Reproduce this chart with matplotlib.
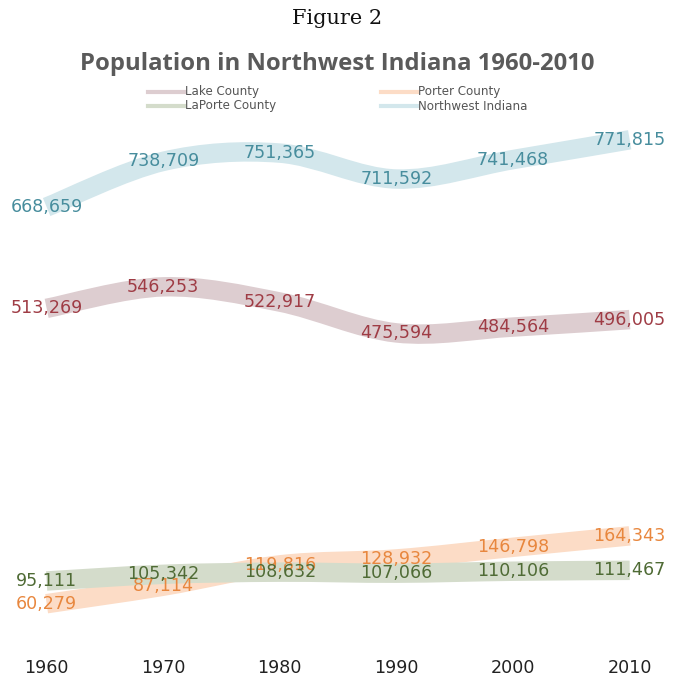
import matplotlib
matplotlib.use("Agg")
import matplotlib.pyplot as plt
from matplotlib.path import Path
from matplotlib.patches import PathPatch
from matplotlib.lines import Line2D

years = ["1960", "1970", "1980", "1990", "2000", "2010"]
lake = [513269, 546253, 522917, 475594, 484564, 496005]
porter = [60279, 87114, 119816, 128932, 146798, 164343]
laporte = [95111, 105342, 108632, 107066, 110106, 111467]
northwest = [668659, 738709, 751365, 711592, 741468, 771815]

series = [
    ("Lake County", lake, "#ddcdd0", "#9f3c45"),
    ("Porter County", porter, "#fcdcc6", "#e8873e"),
    ("LaPorte County", laporte, "#d4dccb", "#4f6b35"),
    ("Northwest Indiana", northwest, "#d3e7ec", "#478d9d"),
]

W, H = 674, 679
fig = plt.figure(figsize=(W / 100, H / 100), dpi=100)
fig.patch.set_facecolor("white")

y_bottom_px = 643
y_top_px = 110
ax = fig.add_axes([0, (H - y_bottom_px) / H, 1, (y_bottom_px - y_top_px) / H])
ax.set_xlim(-0.40, 5.38)
ax.set_ylim(0, (y_bottom_px - y_top_px) / 0.652 * 1000)
ax.axis("off")


def smooth_path(xs, ys):
    # Cubic Bezier segments through every point (Catmull-Rom style tangents)
    n = len(xs)
    pts = list(zip(xs, ys))
    verts = [pts[0]]
    codes = [Path.MOVETO]
    for i in range(n - 1):
        p0 = pts[i - 1] if i > 0 else pts[i]
        p1 = pts[i]
        p2 = pts[i + 1]
        p3 = pts[i + 2] if i + 2 < n else pts[i + 1]
        c1 = (p1[0] + (p2[0] - p0[0]) / 6, p1[1] + (p2[1] - p0[1]) / 6)
        c2 = (p2[0] - (p3[0] - p1[0]) / 6, p2[1] - (p3[1] - p1[1]) / 6)
        verts += [c1, c2, p2]
        codes += [Path.CURVE4] * 3
    return Path(verts, codes)


xs = list(range(len(years)))
for name, vals, lc, tc in series:
    patch = PathPatch(smooth_path(xs, vals), facecolor="none", edgecolor=lc,
                      lw=14, capstyle="butt", joinstyle="round", zorder=2)
    ax.add_patch(patch)

for name, vals, lc, tc in series:
    for x, v in zip(xs, vals):
        ax.text(x, v, f"{v:,}", ha="center", va="center", color=tc,
                fontsize=12.6, family="DejaVu Sans", zorder=3)

for x, yr in zip(xs, years):
    fig.text(ax.transData.transform((x, 0))[0] / W, 1 - 668 / H, yr,
             ha="center", va="center", fontsize=12.6, family="DejaVu Sans",
             color="#222222")

fig.text(0.5, 1 - 19 / H, "Figure 2", ha="center", va="center",
         fontsize=15, family="DejaVu Serif", color="#111111")
fig.text(0.5, 1 - 64 / H, "Population in Northwest Indiana 1960-2010",
         ha="center", va="center", fontsize=17.2, family="Open Sans",
         fontweight="bold", color="#5a5a5a")

# Legend in two columns
legend_items = [
    ("Lake County", "#ddcdd0", 148, 92),
    ("LaPorte County", "#d4dccb", 148, 106),
    ("Porter County", "#fcdcc6", 381, 92),
    ("Northwest Indiana", "#d3e7ec", 381, 106),
]
for label, c, x0, y0 in legend_items:
    fig.add_artist(Line2D([x0 / W, (x0 + 36) / W], [1 - y0 / H, 1 - y0 / H],
                          color=c, lw=3, transform=fig.transFigure))
    fig.text((x0 + 37) / W, 1 - y0 / H, label, ha="left", va="center",
             fontsize=8.6, family="DejaVu Sans", color="#555555")

fig.savefig("out.png", dpi=100, facecolor="white")
